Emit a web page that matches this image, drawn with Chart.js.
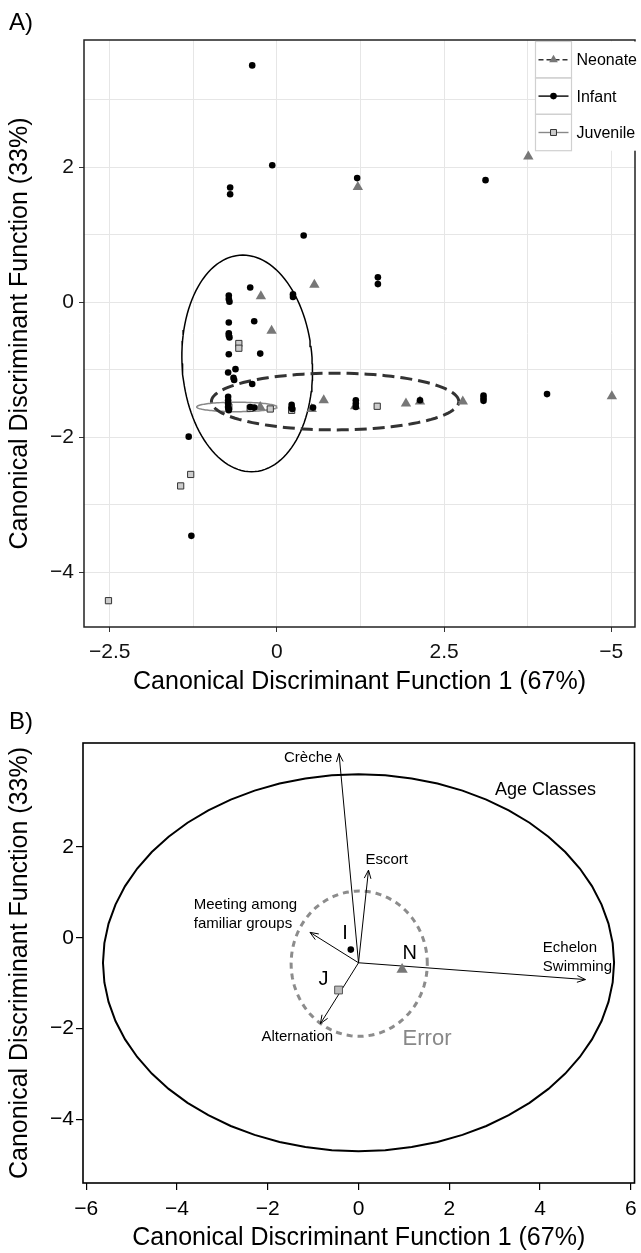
<!DOCTYPE html>
<html>
<head>
<meta charset="utf-8">
<script src="https://cdn.jsdelivr.net/npm/chart.js@4.4.1/dist/chart.umd.min.js"></script>
<style>
  body { margin: 0; background: #fff; width: 641px; height: 1253px; overflow: hidden;
         font-family: 'Liberation Sans', Arial, sans-serif; }
  .panel { position: relative; width: 641px; }
  #wrapA { height: 700px; }
  #wrapB { height: 553px; }
  .tag { position: absolute; left: 9px; font-size: 24px; line-height: 24px; z-index: 2; }
</style>
</head>
<body>
<div id="wrapA" class="panel"><div class="tag" style="top:10px">A)</div><canvas id="chartA"></canvas></div>
<div id="wrapB" class="panel"><div class="tag" style="top:9px">B)</div><canvas id="chartB"></canvas></div>
<script>
// ---- panel A: scores on the two discriminant functions ----
const infantPts = [
  [-0.37, 3.51], [-0.07, 2.03], [-0.70, 1.70], [-0.70, 1.60], [1.20, 1.84], [3.12, 1.81],
  [0.40, 0.99], [-0.40, 0.22], [-0.72, 0.10], [-0.72, 0.05], [-0.71, 0.01], [0.24, 0.12],
  [0.24, 0.08], [1.51, 0.37], [1.51, 0.27], [-0.72, -0.30], [-0.34, -0.28], [-0.72, -0.46],
  [-0.72, -0.49], [-0.71, -0.52], [-0.72, -0.77], [-0.25, -0.76], [-0.73, -1.04], [-0.62, -0.99],
  [-0.65, -1.12], [-0.64, -1.15], [-0.37, -1.21], [-1.32, -1.99], [-1.28, -3.46], [4.04, -1.36],
  [3.09, -1.38], [3.09, -1.42], [3.09, -1.46], [1.18, -1.45], [1.18, -1.50], [1.18, -1.55],
  [0.22, -1.52], [0.22, -1.56], [0.23, -1.58], [0.54, -1.56], [2.14, -1.45],
  [-0.73, -1.40], [-0.73, -1.45], [-0.73, -1.50], [-0.73, -1.55], [-0.72, -1.60], [-0.72, -1.58],
  [-0.40, -1.55], [-0.34, -1.56]
];
const neonatePts = [
  [3.76, 2.16], [1.21, 1.71], [0.56, 0.26], [-0.24, 0.09], [-0.08, -0.42], [0.70, -1.45],
  [1.93, -1.50], [2.14, -1.47], [2.78, -1.47], [5.01, -1.39], [-0.25, -1.55], [1.17, -1.54],
  [0.52, -1.58]
];
const juvenilePts = [
  [-0.57, -0.61], [-0.57, -0.68], [-1.29, -2.55], [-1.44, -2.72], [-2.52, -4.42], [1.50, -1.54],
  [-0.72, -1.55], [-0.40, -1.57], [-0.10, -1.58], [0.22, -1.60]
];
// ellipse: centre x, centre y, radius x, radius y, shear
const neonateEllipse = [0.87, -1.47, 1.85, 0.42, 0];
const infantEllipse = [-0.445, -0.905, 0.975, 1.605, -0.065];
const juvenileEllipse = [-0.60, -1.55, 0.60, 0.07, 0];
const groupsA = ['Neonate', 'Infant', 'Juvenile'];
const xMajorA = [-2.5, 0, 2.5, 5];
const xTickLabelsA = ['\u22122.5', '0', '2.5', '\u22125'];
const xGridA = [-2.5, -1.25, 0, 1.25, 2.5, 3.75, 5];
const yMajorA = [-4, -2, 0, 2];
const yTickLabelsA = ['\u22124', '\u22122', '0', '2'];
const yGridA = [-4, -3, -2, -1, 0, 1, 2, 3];

// ---- panel B: structure coefficients and group centroids ----
const arrowNames = ['Crèche', 'Escort', 'Meeting among familiar groups', 'Echelon Swimming', 'Alternation'];
const arrowX = [-0.43, 0.22, -1.07, 5.00, -0.84];
const arrowY = [4.06, 1.49, 0.12, -0.92, -1.89];
const arrowOrigin = [0, -0.55];
const centroidNames = ['I', 'N', 'J'];
const centroidX = [-0.17, 0.96, -0.44];
const centroidY = [-0.26, -0.70, -1.15];
const ageEllipse = [0, -0.55, 5.63, 4.15, 0];
const errorEllipse = [0.015, -0.57, 1.5, 1.6, 0];
const xTicksB = [-6, -4, -2, 0, 2, 4, 6];
const xTickLabelsB = ['\u22126', '\u22124', '\u22122', '0', '2', '4', '6'];
const yTicksB = [-4, -2, 0, 2];
const yTickLabelsB = ['\u22124', '\u22122', '0', '2'];

Chart.defaults.font.family = "'Liberation Sans', Arial, sans-serif";
Chart.defaults.color = '#000';
Chart.defaults.animation = false;

const toXY = arr => arr.map(([x, y]) => ({x, y}));
function ellipsePoints(p, n) {
  const [cx, cy, rx, ry, sh] = p;
  const pts = [];
  for (let i = 0; i <= n; i++) {
    const t = 2 * Math.PI * i / n;
    pts.push({x: cx + rx * Math.cos(t) + sh * Math.sin(t), y: cy + ry * Math.sin(t)});
  }
  return pts;
}
const pickLabel = (majors, labels) => v => {
  const i = majors.indexOf(v);
  return i < 0 ? '' : labels[i];
};

// border round the plot area
const frame = {
  id: 'frame',
  afterDatasetsDraw(chart, args, opts) {
    const {ctx, chartArea: a} = chart;
    ctx.save();
    ctx.strokeStyle = opts.color;
    ctx.lineWidth = opts.width;
    ctx.strokeRect(a.left, a.top, a.right - a.left, a.bottom - a.top);
    ctx.restore();
  }
};

const keyStyles = [
  {line: '#333', dash: [5, 3], point: 'triangle', r: 5, fill: '#777', stroke: '#777', bw: 0},
  {line: '#000', dash: [], point: 'circle', r: 3.3, fill: '#000', stroke: '#000', bw: 0},
  {line: '#888', dash: [], point: 'rect', r: 4.2, fill: '#ccc', stroke: '#333', bw: 1}
];
const legendA = {
  id: 'legendA',
  afterDraw(chart) {
    const ctx = chart.ctx;
    const x0 = 535.5, y0 = 41.5, kw = 36, kh = 36.4;
    ctx.save();
    ctx.fillStyle = '#fff';
    ctx.fillRect(x0, y0, 641 - x0, kh * 3);
    groupsA.forEach((name, i) => {
      const s = keyStyles[i];
      const ky = y0 + i * kh, cy = ky + kh / 2;
      ctx.strokeStyle = '#d0d0d0';
      ctx.lineWidth = 1.2;
      ctx.setLineDash([]);
      ctx.strokeRect(x0, ky, kw, kh);
      ctx.strokeStyle = s.line;
      ctx.lineWidth = 1.4;
      ctx.setLineDash(s.dash);
      ctx.beginPath();
      ctx.moveTo(x0 + 3, cy);
      ctx.lineTo(x0 + kw - 3, cy);
      ctx.stroke();
      ctx.setLineDash([]);
      ctx.fillStyle = s.fill;
      ctx.strokeStyle = s.stroke;
      ctx.lineWidth = s.bw;
      Chart.helpers.drawPoint(ctx, {pointStyle: s.point, radius: s.r, rotation: 0, borderWidth: s.bw}, x0 + kw / 2, cy);
      ctx.fillStyle = '#000';
      ctx.font = "16px 'Liberation Sans', Arial, sans-serif";
      ctx.textBaseline = 'middle';
      ctx.textAlign = 'left';
      ctx.fillText(name, x0 + kw + 5, cy + 1);
    });
    ctx.restore();
  }
};

new Chart(document.getElementById('chartA'), {
  type: 'scatter',
  data: {
    datasets: [
      {label: 'Infant', data: toXY(infantPts), pointStyle: 'circle', pointRadius: 3.3,
       backgroundColor: '#000', borderWidth: 0},
      {label: 'Neonate', data: toXY(neonatePts), pointStyle: 'triangle', pointRadius: 6,
       backgroundColor: '#777', borderWidth: 0},
      {label: 'Juvenile', data: toXY(juvenilePts), pointStyle: 'rect', pointRadius: 4.4,
       backgroundColor: '#ccc', borderColor: '#333', borderWidth: 1},
      {label: 'Neonate ellipse', data: ellipsePoints(neonateEllipse, 120), showLine: true, pointRadius: 0,
       borderColor: '#333', borderWidth: 3, borderDash: [12, 6]},
      {label: 'Infant ellipse', data: ellipsePoints(infantEllipse, 120), showLine: true, pointRadius: 0,
       borderColor: '#000', borderWidth: 1.5},
      {label: 'Juvenile ellipse', data: ellipsePoints(juvenileEllipse, 120), showLine: true, pointRadius: 0,
       borderColor: '#888', borderWidth: 1.5}
    ]
  },
  options: {
    responsive: true,
    maintainAspectRatio: false,
    layout: {padding: {top: 40, right: 1, left: 0, bottom: 0}},
    plugins: {legend: {display: false}, tooltip: {enabled: false}, frame: {color: '#222', width: 1.5}},
    scales: {
      x: {
        type: 'linear', min: -2.886, max: 5.356,
        afterBuildTicks: s => { s.ticks = xGridA.map(v => ({value: v})); },
        afterFit: s => { s.height = 73; s.paddingLeft = 0; s.paddingRight = 0; },
        border: {display: false},
        grid: {color: '#e6e6e6', lineWidth: 1, tickLength: 5,
               tickColor: c => xMajorA.includes(c.tick.value) ? '#333' : 'rgba(0,0,0,0)'},
        ticks: {autoSkip: false, maxRotation: 0, padding: 8, font: {size: 21}, color: '#111',
                callback: pickLabel(xMajorA, xTickLabelsA)},
        title: {display: true, text: 'Canonical Discriminant Function 1 (67%)', font: {size: 25},
                padding: {top: 0, bottom: 3}}
      },
      y: {
        type: 'linear', min: -4.81, max: 3.886,
        afterBuildTicks: s => { s.ticks = yGridA.map(v => ({value: v})); },
        afterFit: s => { s.width = 84; s.paddingTop = 0; s.paddingBottom = 0; },
        border: {display: false},
        grid: {color: '#e6e6e6', lineWidth: 1, tickLength: 5,
               tickColor: c => yMajorA.includes(c.tick.value) ? '#333' : 'rgba(0,0,0,0)'},
        ticks: {autoSkip: false, padding: 5, font: {size: 21}, color: '#111',
                callback: pickLabel(yMajorA, yTickLabelsA)},
        title: {display: true, text: 'Canonical Discriminant Function (33%)', font: {size: 25},
                padding: {top: 5, bottom: 0}}
      }
    }
  },
  plugins: [frame, legendA]
});

// text placed in data units on panel B
const notesB = [
  {text: 'Crèche', x: -1.11, y: 3.97, size: 15, align: 'center'},
  {text: 'Escort', x: 0.62, y: 1.71, size: 15, align: 'center'},
  {text: 'Meeting among', x: -3.63, y: 0.72, size: 15, align: 'left'},
  {text: 'familiar groups', x: -3.63, y: 0.31, size: 15, align: 'left'},
  {text: 'Echelon', x: 4.06, y: -0.23, size: 15, align: 'left'},
  {text: 'Swimming', x: 4.06, y: -0.65, size: 15, align: 'left'},
  {text: 'Alternation', x: -1.35, y: -2.18, size: 15, align: 'center'},
  {text: 'Age Classes', x: 4.12, y: 3.25, size: 18, align: 'center'},
  {text: 'Error', x: 1.51, y: -2.23, size: 22, align: 'center', color: '#888'},
  {text: centroidNames[0], x: -0.30, y: 0.10, size: 20, align: 'center'},
  {text: centroidNames[1], x: 1.13, y: -0.34, size: 20, align: 'center'},
  {text: centroidNames[2], x: -0.77, y: -0.92, size: 20, align: 'center'}
];
const notesPlugin = {
  id: 'notesB',
  afterDatasetsDraw(chart) {
    const {ctx, scales: {x, y}} = chart;
    ctx.save();
    // arrow heads
    ctx.strokeStyle = '#000';
    ctx.lineWidth = 1;
    const ox = x.getPixelForValue(arrowOrigin[0]), oy = y.getPixelForValue(arrowOrigin[1]);
    arrowX.forEach((ax, i) => {
      const tx = x.getPixelForValue(ax), ty = y.getPixelForValue(arrowY[i]);
      const ang = Math.atan2(ty - oy, tx - ox);
      ctx.beginPath();
      [-0.38, 0.38].forEach(d => {
        ctx.moveTo(tx, ty);
        ctx.lineTo(tx - 9 * Math.cos(ang + d), ty - 9 * Math.sin(ang + d));
      });
      ctx.stroke();
    });
    ctx.textBaseline = 'middle';
    notesB.forEach(n => {
      ctx.font = n.size + "px 'Liberation Sans', Arial, sans-serif";
      ctx.fillStyle = n.color || '#000';
      ctx.textAlign = n.align;
      ctx.fillText(n.text, x.getPixelForValue(n.x), y.getPixelForValue(n.y));
    });
    ctx.restore();
  }
};

const arrowSets = arrowX.map((ax, i) => ({
  label: arrowNames[i],
  data: [{x: arrowOrigin[0], y: arrowOrigin[1]}, {x: ax, y: arrowY[i]}],
  showLine: true, pointRadius: 0, borderColor: '#000', borderWidth: 1
}));

new Chart(document.getElementById('chartB'), {
  type: 'scatter',
  data: {
    datasets: [
      {label: 'I', data: [{x: centroidX[0], y: centroidY[0]}], pointStyle: 'circle', pointRadius: 3.3,
       backgroundColor: '#000', borderWidth: 0},
      {label: 'N', data: [{x: centroidX[1], y: centroidY[1]}], pointStyle: 'triangle', pointRadius: 6.5,
       backgroundColor: '#777', borderWidth: 0},
      {label: 'J', data: [{x: centroidX[2], y: centroidY[2]}], pointStyle: 'rect', pointRadius: 5.5,
       backgroundColor: '#bbb', borderColor: '#555', borderWidth: 1},
      ...arrowSets,
      {label: 'Error', data: ellipsePoints(errorEllipse, 100), showLine: true, pointRadius: 0,
       borderColor: '#8c8c8c', borderWidth: 3, borderDash: [6, 5]},
      {label: 'Age Classes', data: ellipsePoints(ageEllipse, 60), showLine: true, pointRadius: 0,
       borderColor: '#000', borderWidth: 2}
    ]
  },
  options: {
    responsive: true,
    maintainAspectRatio: false,
    layout: {padding: {top: 43, right: 3, left: 0, bottom: 0}},
    plugins: {legend: {display: false}, tooltip: {enabled: false}, frame: {color: '#000', width: 1.6}},
    scales: {
      x: {
        type: 'linear', min: -6.07, max: 6.08,
        afterBuildTicks: s => { s.ticks = xTicksB.map(v => ({value: v})); },
        afterFit: s => { s.height = 70; s.paddingLeft = 0; s.paddingRight = 0; },
        border: {display: false},
        grid: {drawOnChartArea: false, tickLength: 7, tickColor: '#000', lineWidth: 1.2},
        ticks: {autoSkip: false, maxRotation: 0, padding: 7, font: {size: 21},
                callback: pickLabel(xTicksB, xTickLabelsB)},
        title: {display: true, text: 'Canonical Discriminant Function 1 (67%)', font: {size: 25},
                padding: {top: 0, bottom: 0}}
      },
      y: {
        type: 'linear', min: -5.40, max: 4.29,
        afterBuildTicks: s => { s.ticks = yTicksB.map(v => ({value: v})); },
        afterFit: s => { s.width = 83; s.paddingTop = 0; s.paddingBottom = 0; },
        border: {display: false},
        grid: {drawOnChartArea: false, tickLength: 7, tickColor: '#000', lineWidth: 1.2},
        ticks: {autoSkip: false, padding: 2, font: {size: 21},
                callback: pickLabel(yTicksB, yTickLabelsB)},
        title: {display: true, text: 'Canonical Discriminant Function (33%)', font: {size: 25},
                padding: {top: 5, bottom: 0}}
      }
    }
  },
  plugins: [frame, notesPlugin]
});
</script>
</body>
</html>
